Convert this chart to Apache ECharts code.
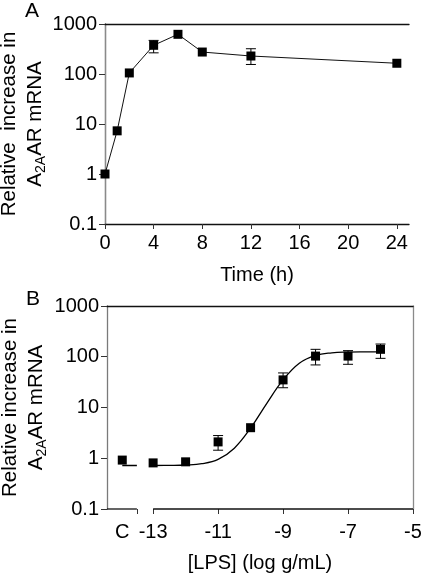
<!DOCTYPE html>
<html>
<head>
<meta charset="utf-8">
<script src="https://cdn.jsdelivr.net/npm/echarts@6/dist/echarts.min.js"></script>
<style>
html,body{margin:0;padding:0;background:#fff;}
#chart{width:422px;height:575px;}
</style>
</head>
<body>
<div id="chart"></div>
<script>
// Panel A: time course
const timeHours = [0, 1, 2, 4, 6, 8, 12, 24];
const timeFold = [1, 7.3, 105, 375, 622, 275, 229, 164];
const timeErrX = [4, 12];
const timeErrLow = [265, 155];
const timeErrHigh = [470, 320];
const timeTicks = [0, 4, 8, 12, 16, 20, 24];

// Panel B: LPS dose response
const controlX = -13.95;          // position of the "C" (control) category
const controlFold = 0.92;
const lpsLog = [-13, -12, -11, -10, -9, -8, -7, -6];
const lpsFold = [0.81, 0.85, 2.1, 4.0, 35, 103, 103, 140];
const lpsErrX = [-11, -9, -8, -7, -6];
const lpsErrLow = [1.44, 24.5, 69, 71, 93];
const lpsErrHigh = [2.8, 48, 140, 132, 178];
// fitted curve
const fitX = [-13, -12.5, -12, -11.5, -11, -10.5, -10, -9.5, -9, -8.5, -8, -7.5, -7, -6.5, -6];
const fitY = [0.72, 0.724, 0.736, 0.78, 0.95, 1.58, 3.92, 12.07, 34.9, 74.3, 106, 119.3, 123.4, 124.6, 124.9];
const controlFitX = [-13.95, -13.5];
const controlFitY = [0.72, 0.72];
const lpsTickValues = [-13.5, -13, -11, -9, -7, -5];
const lpsLabelValues = [-13.95, -13, -11, -9, -7, -5];
const lpsAxisMin = -14.42, lpsBreakStart = -13.5, lpsBreakEnd = -13, lpsAxisMax = -5;

const FONT = '"Liberation Sans", Arial, sans-serif';
const chart = echarts.init(document.getElementById('chart'), null, {renderer: 'canvas'});

function zip(a, b) { return a.map((v, i) => [v, b[i]]); }
function errData(x, lo, hi) { return x.map((v, i) => [v, lo[i], hi[i]]); }

function errRender(params, api) {
  const x = api.value(0), lo = api.value(1), hi = api.value(2);
  const p1 = api.coord([x, hi]);
  const p2 = api.coord([x, lo]);
  const w = 5;
  const st = {stroke: '#000', lineWidth: 1};
  return {type: 'group', children: [
    {type: 'line', shape: {x1: p1[0], y1: p1[1], x2: p2[0], y2: p2[1]}, style: st},
    {type: 'line', shape: {x1: p1[0] - w, y1: p1[1], x2: p1[0] + w, y2: p1[1]}, style: st},
    {type: 'line', shape: {x1: p2[0] - w, y1: p2[1], x2: p2[0] + w, y2: p2[1]}, style: st}
  ]};
}

const yName = (line1) => ({
  name: line1 + '\n{n|A}{s|2A}{n|AR mRNA}',
  nameLocation: 'middle',
  nameRotate: 90,
  nameMoveOverlap: false,
  nameTextStyle: {
    fontFamily: FONT, fontSize: 20.5, color: '#000', lineHeight: 26,
    rich: {
      n: {fontFamily: FONT, fontSize: 20.5, color: '#000', lineHeight: 26},
      s: {fontFamily: FONT, fontSize: 14, color: '#000', lineHeight: 14, verticalAlign: 'bottom'}
    }
  }
});

const logY = (grid, gap, label1) => Object.assign({
  type: 'log', logBase: 10, gridIndex: grid, min: 0.1, max: 1000,
  nameGap: gap,
  axisLine: {show: true, lineStyle: {color: '#7a7a7a', width: 1.3}},
  axisTick: {show: true, length: 6, lineStyle: {color: '#333', width: 1}},
  axisLabel: {fontFamily: FONT, fontSize: 20, color: '#000', margin: 8,
    formatter: v => (v < 1 ? '0.1' : String(Math.round(v)))},
  minorTick: {show: false},
  splitLine: {show: false}
}, yName(label1));

const borderY = (grid) => ({
  type: 'log', logBase: 10, gridIndex: grid, min: 0.1, max: 1000, position: 'right',
  axisLine: {show: true, lineStyle: {color: '#8a8a8a', width: 1.3}},
  axisTick: {show: false}, axisLabel: {show: false}, splitLine: {show: false}
});
const borderX = (grid, min, max) => ({
  type: 'value', gridIndex: grid, min: min, max: max, position: 'top',
  axisLine: {show: true, onZero: false, lineStyle: {color: '#111', width: 1.3}},
  axisTick: {show: false}, axisLabel: {show: false}, splitLine: {show: false}
});

const option = {
  backgroundColor: '#fff',
  animation: false,
  grid: [
    {left: 105, right: 13, top: 24, height: 200, containLabel: false, outerBoundsMode: 'none'},
    {left: 107, right: 9, top: 306, height: 203, containLabel: false, outerBoundsMode: 'none'}
  ],
  xAxis: [
    {
      type: 'value', gridIndex: 0, min: 0, max: 25,
      name: 'Time (h)', nameLocation: 'middle', nameGap: 41, nameMoveOverlap: false,
      nameTextStyle: {fontFamily: FONT, fontSize: 20, color: '#000'},
      axisLine: {show: true, onZero: false, lineStyle: {color: '#111', width: 1.3}},
      axisTick: {show: true, length: 5, customValues: timeTicks, lineStyle: {color: '#333'}},
      axisLabel: {fontFamily: FONT, fontSize: 20, color: '#000', margin: 9, customValues: timeTicks},
      splitLine: {show: false}
    },
    {
      type: 'value', gridIndex: 1, min: lpsAxisMin, max: lpsAxisMax,
      name: '[LPS] (log g/mL)', nameLocation: 'middle', nameGap: 44, nameMoveOverlap: false,
      nameTextStyle: {fontFamily: FONT, fontSize: 20, color: '#000'},
      axisLine: {show: false},
      axisTick: {show: true, length: 5, customValues: lpsTickValues, lineStyle: {color: '#333'}},
      axisLabel: {fontFamily: FONT, fontSize: 20, color: '#000', margin: 13, customValues: lpsLabelValues,
        formatter: v => (Math.abs(v - controlX) < 0.01 ? 'C' : String(v))},
      splitLine: {show: false}
    },
    borderX(0, 0, 25),
    borderX(1, lpsAxisMin, lpsAxisMax)
  ],
  yAxis: [
    logY(0, 57, 'Relative  increase in'),
    logY(1, 58, 'Relative increase in'),
    borderY(0),
    borderY(1)
  ],
  graphic: [
    {type: 'text', left: 25, top: 1, style: {text: 'A', fontFamily: FONT, fontSize: 21, fill: '#000'}},
    {type: 'text', left: 26, top: 289, style: {text: 'B', fontFamily: FONT, fontSize: 21, fill: '#000'}}
  ],
  series: [
    {
      type: 'custom', xAxisIndex: 0, yAxisIndex: 0, z: 1,
      renderItem: errRender, data: errData(timeErrX, timeErrLow, timeErrHigh)
    },
    {
      type: 'line', xAxisIndex: 0, yAxisIndex: 0, z: 3,
      data: zip(timeHours, timeFold),
      symbol: 'rect', symbolSize: 9, showSymbol: true,
      itemStyle: {color: '#000', opacity: 1},
      lineStyle: {color: '#111', width: 1}
    },
    // broken x axis line of panel B
    {
      type: 'line', xAxisIndex: 1, yAxisIndex: 1, z: 2, clip: false, symbol: 'none', silent: true,
      data: [[lpsAxisMin, 0.1], [lpsBreakStart, 0.1]],
      lineStyle: {color: '#111', width: 1.3}
    },
    {
      type: 'line', xAxisIndex: 1, yAxisIndex: 1, z: 2, clip: false, symbol: 'none', silent: true,
      data: [[lpsBreakEnd, 0.1], [lpsAxisMax, 0.1]],
      lineStyle: {color: '#111', width: 1.3}
    },
    {
      type: 'line', xAxisIndex: 1, yAxisIndex: 1, z: 2, symbol: 'none',
      data: zip(controlFitX, controlFitY),
      lineStyle: {color: '#000', width: 1.3}
    },
    {
      type: 'line', xAxisIndex: 1, yAxisIndex: 1, z: 2, symbol: 'none',
      smooth: 0.4,
      data: zip(fitX, fitY),
      lineStyle: {color: '#000', width: 1.3}
    },
    {
      type: 'custom', xAxisIndex: 1, yAxisIndex: 1, z: 1,
      renderItem: errRender, data: errData(lpsErrX, lpsErrLow, lpsErrHigh)
    },
    {
      type: 'scatter', xAxisIndex: 1, yAxisIndex: 1, z: 3,
      data: [[controlX, controlFold]].concat(zip(lpsLog, lpsFold)),
      symbol: 'rect', symbolSize: 9,
      itemStyle: {color: '#000', opacity: 1}
    }
  ]
};
chart.setOption(option);
</script>
</body>
</html>
